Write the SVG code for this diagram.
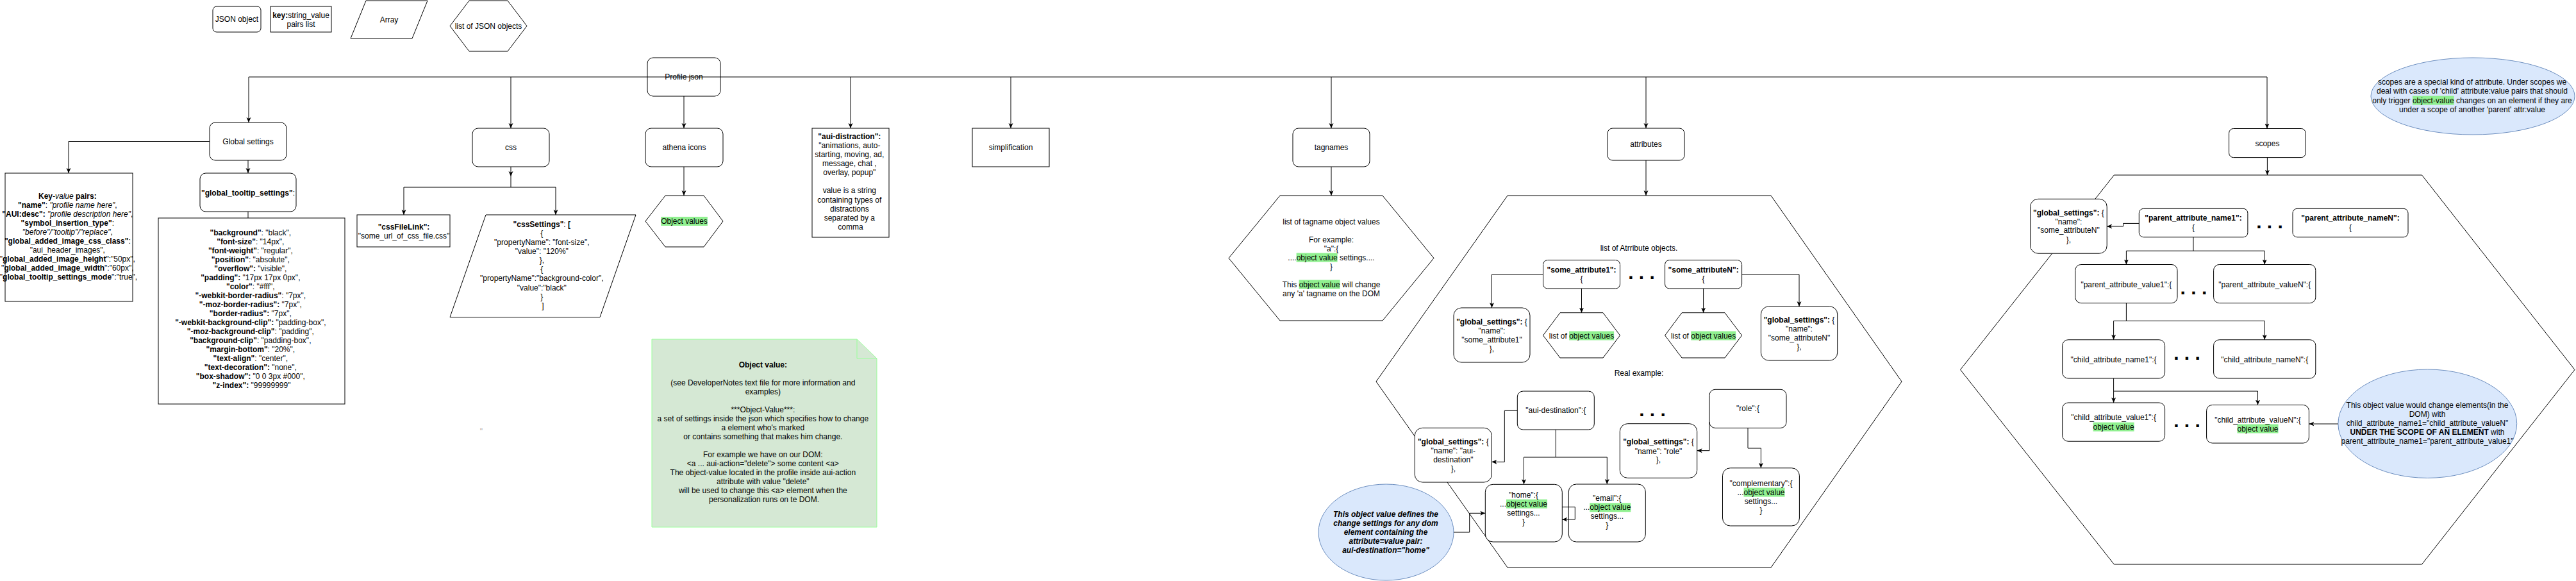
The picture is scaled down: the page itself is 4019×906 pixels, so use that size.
<svg xmlns="http://www.w3.org/2000/svg" width="4019" height="906" viewBox="0 0 4019 906">
<defs>
<style>
.n{fill:#fff;stroke:#000;stroke-width:1}
.e{fill:none;stroke:#000;stroke-width:1}
.ea{fill:none;stroke:#000;stroke-width:1;marker-end:url(#arr)}
.t{font-family:"Liberation Sans",Arial,Helvetica,sans-serif;font-size:12px;fill:#000;text-anchor:middle}
.b{font-weight:bold}
.i{font-style:italic}
.bi{font-weight:bold;font-style:italic}
.hl{fill:#90f090}
.dots{font-family:"Liberation Sans",Arial,sans-serif;font-size:30px;font-weight:bold;fill:#000;text-anchor:middle}
.ell{fill:#dae8fc;stroke:#6c8ebf;stroke-width:1}
</style>
<marker id="arr" viewBox="0 0 8 8" refX="8" refY="4" markerWidth="8" markerHeight="8" markerUnits="userSpaceOnUse" orient="auto">
<path d="M0,0.5 L8,4 L0,7.5 L2,4 Z" fill="#000"/>
</marker>
</defs>
<rect width="4019" height="906" fill="#fff"/>

<!-- Legend -->
<g id="legend-json-object">
<rect class="n" x="332" y="10" width="75" height="40" rx="6"/>
<text class="t" x="369.5" y="34">JSON object</text>
</g>
<g id="legend-key-pairs">
<rect class="n" x="422" y="10" width="95" height="40"/>
<text class="t"><tspan x="469.5" y="28"><tspan class="b">key:</tspan>string_value</tspan><tspan x="469.5" y="42">pairs list</tspan></text>
</g>
<g id="legend-array">
<polygon class="n" points="571,1 667,1 643,60 547,60"/>
<text class="t" x="607" y="35">Array</text>
</g>
<g id="legend-list">
<polygon class="n" points="702,40.5 732,1 792,1 822,40.5 792,80 732,80"/>
<text class="t" x="762" y="44.5">list of JSON objects</text>
</g>

<!-- Big hexagons (containers) -->
<g id="tagnames-list">
<polygon class="n" points="1917,402.5 1997,305 2157,305 2237,402.5 2157,500 1997,500"/>
<rect class="hl" x="2022.6" y="394.5" width="64" height="14"/>
<rect class="hl" x="2026.6" y="436.5" width="64" height="14"/>
<text class="t"><tspan x="2077" y="349.5">list of tagname object values</tspan><tspan x="2077" y="377.5">For example:</tspan><tspan x="2077" y="391.5">"a":{</tspan><tspan x="2077" y="405.5">....object value settings....</tspan><tspan x="2077" y="419.5">}</tspan><tspan x="2077" y="447.5">This object value will change</tspan><tspan x="2077" y="461.5">any 'a' tagname on the DOM</tspan></text>
</g>
<g id="attributes-list">
<polygon class="n" points="2147,595 2352,305 2763,305 2967,595 2763,885 2352,885"/>
<text class="t" x="2557" y="390.6">list of Atrribute objects.</text>
<text class="t" x="2557" y="586.4">Real example:</text>
</g>
<g id="scopes-list">
<polygon class="n" points="3058.5,576.5 3298.3,273 3778.5,273 4017,576.5 3778.5,880 3298.3,880"/>
</g>

<!-- Top row -->
<g id="profile-json">
<rect class="n" x="1010" y="90" width="114" height="60" rx="9"/>
<text class="t" x="1067" y="124">Profile json</text>
</g>

<g id="global-settings">
<rect class="n" x="327" y="191" width="120" height="59" rx="9"/>
<text class="t" x="387" y="224.5">Global settings</text>
</g>
<g id="key-value-pairs">
<rect class="n" x="8" y="270" width="199" height="200"/>
<text class="t">
<tspan x="107" y="310"><tspan class="b">Key</tspan><tspan class="i">-value</tspan><tspan class="b"> pairs:</tspan></tspan>
<tspan x="107" y="323.9"><tspan class="b">"name"</tspan>: <tspan class="i">"profile name here"</tspan>,</tspan>
<tspan x="107" y="337.9"><tspan class="b">"AUI:desc":</tspan> <tspan class="i">"profile description here"</tspan>,</tspan>
<tspan x="107" y="351.8"><tspan class="b">"symbol_insertion_type"</tspan>:</tspan>
<tspan x="107" y="365.8"><tspan class="i">"before"/"tooltip"/"replace"</tspan>,</tspan>
<tspan x="107" y="379.7"><tspan class="b">"global_added_image_css_class"</tspan>:</tspan>
<tspan x="107" y="393.7">"aui_header_images",</tspan>
<tspan x="107" y="407.6">"<tspan class="b">global_added_image_height</tspan>":"50px",</tspan>
<tspan x="107" y="421.6">"<tspan class="b">global_added_image_width</tspan>":"60px",</tspan>
<tspan x="107" y="435.5">"<tspan class="b">global_tooltip_settings_mode</tspan>":"true",</tspan>
</text>
</g>
<g id="global-tooltip-settings">
<rect class="n" x="312" y="270" width="150" height="60" rx="9"/>
<text class="t" x="387" y="304.5"><tspan class="b">"global_tooltip_settings"</tspan>:</text>
</g>
<g id="tooltip-settings-values">
<rect class="n" x="247" y="340" width="291" height="290"/>
<text class="t">
<tspan x="392.5" y="367.4"><tspan class="b">"background"</tspan>: "black",</tspan>
<tspan x="392.5" y="381.4"><tspan class="b">"font-size"</tspan>: "14px",</tspan>
<tspan x="392.5" y="395.4"><tspan class="b">"font-weight"</tspan>: "regular",</tspan>
<tspan x="392.5" y="409.4"><tspan class="b">"position"</tspan>: "absolute",</tspan>
<tspan x="392.5" y="423.4"><tspan class="b">"overflow":</tspan> "visible",</tspan>
<tspan x="392.5" y="437.4"><tspan class="b">"padding":</tspan> "17px 17px 0px",</tspan>
<tspan x="392.5" y="451.4"><tspan class="b">"color"</tspan>: "#fff",</tspan>
<tspan x="392.5" y="465.4"><tspan class="b">"-webkit-border-radius"</tspan>: "7px",</tspan>
<tspan x="392.5" y="479.4"><tspan class="b">"-moz-border-radius":</tspan> "7px",</tspan>
<tspan x="392.5" y="493.4"><tspan class="b">"border-radius":</tspan> "7px",</tspan>
<tspan x="392.5" y="507.4"><tspan class="b">"-webkit-background-clip":</tspan> "padding-box",</tspan>
<tspan x="392.5" y="521.4"><tspan class="b">"-moz-background-clip"</tspan>: "padding",</tspan>
<tspan x="392.5" y="535.4"><tspan class="b">"background-clip"</tspan>: "padding-box",</tspan>
<tspan x="392.5" y="549.4"><tspan class="b">"margin-bottom"</tspan>: "20%",</tspan>
<tspan x="392.5" y="563.4"><tspan class="b">"text-align"</tspan>: "center",</tspan>
<tspan x="392.5" y="577.4"><tspan class="b">"text-decoration":</tspan> "none",</tspan>
<tspan x="392.5" y="591.4"><tspan class="b">"box-shadow":</tspan> "0 0 3px #000",</tspan>
<tspan x="392.5" y="605.4"><tspan class="b">"z-index":</tspan> "99999999"</tspan>
</text>
</g>

<g id="css">
<rect class="n" x="737" y="200" width="120" height="60" rx="9"/>
<text class="t" x="797" y="234">css</text>
</g>
<g id="css-file-link">
<rect class="n" x="557" y="335" width="145" height="50"/>
<text class="t"><tspan x="630" y="357.6" class="b">"cssFileLink":</tspan><tspan x="630" y="371.5">"some_url_of_css_file.css"</tspan></text>
</g>
<g id="css-settings">
<polygon class="n" points="758,335 992,335 936,494.6 702,494.6"/>
<text class="t">
<tspan x="847" y="354"><tspan class="b">"cssSettings"</tspan>: <tspan class="b">[</tspan></tspan>
<tspan x="847" y="368">{</tspan>
<tspan x="847" y="382.1">"propertyName": "font-size",</tspan>
<tspan x="847" y="396.2">"value": "120%"</tspan>
<tspan x="847" y="410.3">},</tspan>
<tspan x="847" y="424.3">{</tspan>
<tspan x="847" y="438.4">"propertyName":"background-color",</tspan>
<tspan x="847" y="452.5">"value":"black"</tspan>
<tspan x="847" y="466.6">}</tspan>
<tspan x="847" y="480.6">]</tspan>
</text>
</g>
<g id="stray-mark">
<text class="t" x="751" y="677" style="fill:#aaa">"</text>
</g>

<g id="athena-icons">
<rect class="n" x="1007" y="200" width="121" height="60" rx="9"/>
<text class="t" x="1067.5" y="234">athena icons</text>
</g>
<g id="object-values">
<polygon class="n" points="1007,345 1038,305 1098,305 1128,345 1098,385 1038,385"/>
<rect class="hl" x="1031.2" y="338" width="72.7" height="14"/>
<text class="t" x="1067.5" y="349">Object values</text>
</g>

<g id="aui-distraction">
<rect class="n" x="1267" y="200" width="120" height="170"/>
<text class="t">
<tspan x="1327" y="217.2" class="b">"aui-distraction":</tspan>
<tspan x="1327" y="231.2">"animations, auto-</tspan>
<tspan x="1327" y="245.3">starting, moving, ad,</tspan>
<tspan x="1327" y="259.3">message, chat ,</tspan>
<tspan x="1327" y="273.4">overlay, popup"</tspan>
<tspan x="1327" y="301.4">value is a string</tspan>
<tspan x="1327" y="315.5">containing types of</tspan>
<tspan x="1327" y="329.5">distractions</tspan>
<tspan x="1327" y="343.6">separated by a</tspan>
<tspan x="1327" y="357.6">comma</tspan>
</text>
</g>

<g id="simplification">
<rect class="n" x="1517" y="200" width="120" height="60"/>
<text class="t" x="1577" y="234">simplification</text>
</g>

<g id="object-value-note">
<path d="M1017,529 H1337 L1368,559 V822 H1017 Z" fill="#d5e8d4" stroke="#99ff99" stroke-width="1"/>
<path d="M1337,529 V559 H1368" fill="none" stroke="#99ff99" stroke-width="1"/>
<text class="t">
<tspan x="1192" y="573" class="b">Object value:</tspan>
<tspan x="1192" y="601">(see DeveloperNotes text file for more information and</tspan>
<tspan x="1192" y="615">examples)</tspan>
<tspan x="1192" y="643">***Object-Value***:</tspan>
<tspan x="1192" y="657">a set of settings inside the json which specifies how to change</tspan>
<tspan x="1192" y="671">a element who's marked</tspan>
<tspan x="1192" y="685">or contains something that makes him change.</tspan>
<tspan x="1192" y="713">For example we have on our DOM:</tspan>
<tspan x="1192" y="727">&lt;a ... aui-action="delete"&gt; some content &lt;a&gt;</tspan>
<tspan x="1192" y="741">The object-value located in the profile inside aui-action</tspan>
<tspan x="1192" y="755">attribute with value "delete"</tspan>
<tspan x="1192" y="769">will be used to change this &lt;a&gt; element when the</tspan>
<tspan x="1192" y="783">personalization runs on te DOM.</tspan>
</text>
</g>

<g id="tagnames">
<rect class="n" x="2017" y="200" width="120" height="60" rx="9"/>
<text class="t" x="2077" y="234">tagnames</text>
</g>

<g id="attributes">
<rect class="n" x="2508" y="200" width="120" height="50" rx="8"/>
<text class="t" x="2568" y="229">attributes</text>
</g>
<g id="some-attribute1">
<rect class="n" x="2407.5" y="405.6" width="120" height="44.4" rx="7"/>
<text class="t"><tspan x="2467.5" y="424.6" class="b">"some_attribute1":</tspan><tspan x="2467.5" y="438.5">{</tspan></text>
</g>
<g id="some-attributeN">
<rect class="n" x="2597.6" y="405.6" width="120" height="44.4" rx="7"/>
<text class="t"><tspan x="2657.6" y="424.6" class="b">"some_attributeN":</tspan><tspan x="2657.6" y="438.5">{</tspan></text>
</g>
<g id="dots-attributes">
<text class="dots" x="2561" y="434.5">. . .</text>
</g>
<g id="global-settings-attr1">
<rect class="n" x="2268" y="480" width="119" height="85" rx="12"/>
<text class="t"><tspan x="2327.5" y="505.5"><tspan class="b">"global_settings":</tspan> {</tspan><tspan x="2327.5" y="520">"name":</tspan><tspan x="2327.5" y="534">"some_attribute1"</tspan><tspan x="2327.5" y="548">},</tspan></text>
</g>
<g id="list-object-values-1">
<polygon class="n" points="2407.5,523 2434,487.7 2501,487.7 2527.5,523 2501,558 2434,558"/>
<rect class="hl" x="2448.1" y="516.5" width="70" height="14"/>
<text class="t" x="2467.5" y="527.5">list of object values</text>
</g>
<g id="list-object-values-N">
<polygon class="n" points="2597.6,523 2624,487.7 2691,487.7 2717.6,523 2691,558 2624,558"/>
<rect class="hl" x="2638.2" y="516.5" width="70" height="14"/>
<text class="t" x="2657.6" y="527.5">list of object values</text>
</g>
<g id="global-settings-attrN">
<rect class="n" x="2747.4" y="478" width="119.3" height="84" rx="12"/>
<text class="t"><tspan x="2807" y="502.6"><tspan class="b">"global_settings":</tspan> {</tspan><tspan x="2807" y="517">"name":</tspan><tspan x="2807" y="531">"some_attributeN"</tspan><tspan x="2807" y="545">},</tspan></text>
</g>
<g id="aui-destination">
<rect class="n" x="2367.3" y="610" width="120" height="60" rx="9"/>
<text class="t" x="2427.3" y="644">"aui-destination":{</text>
</g>
<g id="global-settings-aui">
<rect class="n" x="2207.3" y="667.3" width="120" height="84.7" rx="12"/>
<text class="t"><tspan x="2267.3" y="693"><tspan class="b">"global_settings":</tspan> {</tspan><tspan x="2267.3" y="707">"name": "aui-</tspan><tspan x="2267.3" y="721">destination"</tspan><tspan x="2267.3" y="735">},</tspan></text>
</g>
<g id="home">
<rect class="n" x="2317.3" y="755.3" width="120" height="89.7" rx="12"/>
<rect class="hl" x="2350" y="778.7" width="64" height="14"/>
<text class="t"><tspan x="2377" y="775.7">"home":{</tspan><tspan x="2377" y="789.7">...object value</tspan><tspan x="2377" y="803.7">settings...</tspan><tspan x="2377" y="817.7">}</tspan></text>
</g>
<g id="email">
<rect class="n" x="2447.3" y="755" width="120" height="90" rx="12"/>
<rect class="hl" x="2480.3" y="784.3" width="64" height="14"/>
<text class="t"><tspan x="2507.3" y="781.3">"email":{</tspan><tspan x="2507.3" y="795.3">...object value</tspan><tspan x="2507.3" y="809.3">settings...</tspan><tspan x="2507.3" y="823.3">}</tspan></text>
</g>
<g id="dots-real">
<text class="dots" x="2578" y="648.5">. . .</text>
</g>
<g id="global-settings-role">
<rect class="n" x="2527.3" y="660.7" width="120.4" height="84.6" rx="12"/>
<text class="t"><tspan x="2587.5" y="693.3"><tspan class="b">"global_settings":</tspan> {</tspan><tspan x="2587.5" y="707.7">"name": "role"</tspan><tspan x="2587.5" y="721">},</tspan></text>
</g>
<g id="role">
<rect class="n" x="2667" y="607.3" width="120" height="60.1" rx="9"/>
<text class="t" x="2727" y="641.3">"role":{</text>
</g>
<g id="complementary">
<rect class="n" x="2687.5" y="729.8" width="119.9" height="90.2" rx="12"/>
<rect class="hl" x="2720.5" y="760.6" width="64" height="14"/>
<text class="t"><tspan x="2747.5" y="757.5">"complementary":{</tspan><tspan x="2747.5" y="771.6">...object value</tspan><tspan x="2747.5" y="785.8">settings...</tspan><tspan x="2747.5" y="799.7">}</tspan></text>
</g>
<g id="home-note">
<ellipse class="ell" cx="2162.5" cy="830" rx="105.5" ry="75"/>
<text class="t bi"><tspan x="2162" y="805.7">This object value defines the</tspan><tspan x="2162" y="819.7">change settings for any dom</tspan><tspan x="2162" y="833.7">element containing the</tspan><tspan x="2162" y="847.7">attribute=value pair:</tspan><tspan x="2162" y="861.7">aui-destination="home"</tspan></text>
</g>

<g id="scopes">
<rect class="n" x="3477.6" y="200.5" width="119.6" height="45.1" rx="7"/>
<text class="t" x="3537.4" y="227.6">scopes</text>
</g>
<g id="scopes-note">
<ellipse class="ell" cx="3858" cy="150" rx="159" ry="60"/>
<rect class="hl" x="3764" y="149.6" width="64.7" height="14"/>
<text class="t"><tspan x="3857" y="132.3">scopes are a special kind of attribute. Under scopes we</tspan><tspan x="3857" y="146">deal with cases of 'child' attribute:value pairs that should</tspan><tspan x="3857" y="160.6">only trigger object-value changes on an element if they are</tspan><tspan x="3857" y="174.5">under a scope of another 'parent' attr:value</tspan></text>
</g>
<g id="global-settings-scopes">
<rect class="n" x="3167.7" y="310.3" width="119.5" height="84.9" rx="12"/>
<text class="t"><tspan x="3227.4" y="335.7"><tspan class="b">"global_settings":</tspan> {</tspan><tspan x="3227.4" y="349.5">"name":</tspan><tspan x="3227.4" y="363.4">"some_attributeN"</tspan><tspan x="3227.4" y="377.8">},</tspan></text>
</g>
<g id="parent-attribute-name1">
<rect class="n" x="3337.3" y="325.3" width="169.6" height="44.5" rx="7"/>
<text class="t"><tspan x="3422" y="344.3" class="b">"parent_attribute_name1":</tspan><tspan x="3422" y="358.8">{</tspan></text>
</g>
<g id="dots-parent-names">
<text class="dots" x="3541" y="355.5">. . .</text>
</g>
<g id="parent-attribute-nameN">
<rect class="n" x="3577" y="325.3" width="180" height="44.5" rx="7"/>
<text class="t"><tspan x="3667" y="344.3" class="b">"parent_attribute_nameN":</tspan><tspan x="3667" y="358.8">{</tspan></text>
</g>
<g id="parent-attribute-value1">
<rect class="n" x="3237.8" y="412.5" width="159.2" height="60.1" rx="9"/>
<text class="t" x="3317.4" y="447.7">"parent_attribute_value1":{</text>
</g>
<g id="dots-parent-values">
<text class="dots" x="3422.4" y="459.1">. . .</text>
</g>
<g id="parent-attribute-valueN">
<rect class="n" x="3453.6" y="412.5" width="159.2" height="60.1" rx="9"/>
<text class="t" x="3533.2" y="447.7">"parent_attribute_valueN":{</text>
</g>
<g id="child-attribute-name1">
<rect class="n" x="3217.7" y="529.8" width="159.9" height="60.2" rx="9"/>
<text class="t" x="3297.6" y="564.5">"child_attribute_name1":{</text>
</g>
<g id="dots-child-names">
<text class="dots" x="3412" y="560.8">. . .</text>
</g>
<g id="child-attribute-nameN">
<rect class="n" x="3453.6" y="529.8" width="159.2" height="60.2" rx="9"/>
<text class="t" x="3533.2" y="564.5">"child_attribute_nameN":{</text>
</g>
<g id="child-attribute-value1">
<rect class="n" x="3217.7" y="628" width="159.9" height="60.2" rx="9"/>
<rect class="hl" x="3265.6" y="658.6" width="64" height="14"/>
<text class="t"><tspan x="3297.6" y="655.2">"child_attribute_value1":{</tspan><tspan x="3297.6" y="669.6">object value</tspan></text>
</g>
<g id="dots-child-values">
<text class="dots" x="3412" y="666">. . .</text>
</g>
<g id="child-attribute-valueN">
<rect class="n" x="3442.6" y="631.5" width="159.8" height="59.5" rx="9"/>
<rect class="hl" x="3490.5" y="661.5" width="64" height="14"/>
<text class="t"><tspan x="3522.5" y="658.6">"child_attribute_valueN":{</tspan><tspan x="3522.5" y="672.5">object value</tspan></text>
</g>
<g id="scope-note">
<ellipse class="ell" cx="3787.3" cy="660.7" rx="139.4" ry="84.7"/>
<text class="t"><tspan x="3787" y="636">This object value would change elements(in the</tspan><tspan x="3787" y="650">DOM) with</tspan><tspan x="3787" y="664">child_attribute_name1="child_attribute_valueN"</tspan><tspan x="3787" y="678"><tspan class="b">UNDER THE SCOPE OF AN ELEMENT</tspan> with</tspan><tspan x="3787" y="692">parent_attribute_name1="parent_attribute_value1"</tspan></text>
</g>

<!-- Connectors -->
<g id="connectors">
<path class="e" d="M388,120 H3537"/>
<path class="ea" d="M3537,120 V200.5"/>
<path class="ea" d="M388,120 V191"/>
<path class="ea" d="M797,120 V200"/>
<path class="ea" d="M1327,120 V200"/>
<path class="ea" d="M1577,120 V200"/>
<path class="ea" d="M2077,120 V200"/>
<path class="ea" d="M2568,120 V200"/>
<path class="ea" d="M1067,150 V200"/>
<path class="ea" d="M1067,260 V305"/>
<path class="ea" d="M327,220.5 H107 V270"/>
<path class="ea" d="M387,250 V270"/>
<path class="e" d="M387,330 V340"/>
<path class="ea" d="M797,260 V275"/>
<path class="e" d="M797,275 V292"/>
<path class="ea" d="M797,292 H630 V335"/>
<path class="ea" d="M797,292 H867 V335"/>
<path class="ea" d="M2077,260 V305"/>
<path class="ea" d="M2568,250 V305"/>
<path class="ea" d="M2407.5,428 H2327.5 V480"/>
<path class="ea" d="M2467.5,450 V487.7"/>
<path class="ea" d="M2657.6,450 V487.7"/>
<path class="ea" d="M2717.6,428 H2807 V478"/>
<path class="ea" d="M2367.3,640.3 H2347.3 V720.3 H2327.3"/>
<path class="ea" d="M2427.3,670 V713 H2377.5 V755.3"/>
<path class="ea" d="M2427.3,713 H2507.3 V755"/>
<path class="ea" d="M2437.3,790.7 H2457.3 V810 H2437.3"/>
<path class="ea" d="M2667,658 V702.7 H2647.7"/>
<path class="ea" d="M2727,667.4 V699 H2747.4 V729.8"/>
<path class="ea" d="M2268,830 H2292.7 V800.3 H2317.3"/>
<path class="ea" d="M3537.4,245.6 V273"/>
<path class="ea" d="M3337.3,348.4 H3312.6 V353 H3287.2"/>
<path class="e" d="M3422,369.8 V391.2"/>
<path class="ea" d="M3422,391.2 H3317.4 V412.5"/>
<path class="ea" d="M3422,391.2 H3533.2 V412.5"/>
<path class="ea" d="M3317.4,472.6 V500.4 H3297.6 V529.8"/>
<path class="ea" d="M3317.4,500.4 H3533.2 V529.8"/>
<path class="ea" d="M3297.6,590 V628"/>
<path class="ea" d="M3297.6,610 H3522.5 V631.5"/>
<path class="ea" d="M3647.9,661 H3602.4"/>
</g>
</svg>
